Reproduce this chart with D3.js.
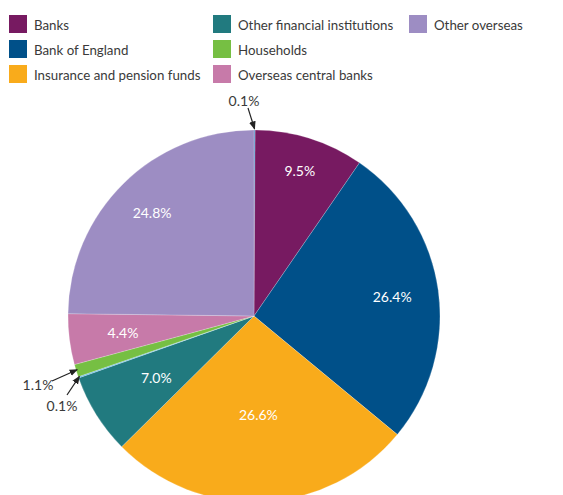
<!DOCTYPE html>
<html><head><meta charset="utf-8">
<script src="https://cdn.jsdelivr.net/npm/d3@7"></script>
<style>body{margin:0;background:#fff}svg{display:block}text{font-family:Lato,"Open Sans",sans-serif}</style>
</head><body>
<svg id="c" width="563" height="495"></svg>
<script>
// Data (clockwise from 12 o'clock)
const sliceNames = ["Bank of England (other)", "Banks", "Bank of England", "Insurance and pension funds",
  "Other financial institutions", "Other (small)", "Households", "Overseas central banks", "Other overseas"];
const sliceValues = [0.1, 9.5, 26.4, 26.6, 7.0, 0.1, 1.1, 4.4, 24.8];
const sliceLabels = ["0.1%", "9.5%", "26.4%", "26.6%", "7.0%", "0.1%", "1.1%", "4.4%", "24.8%"];
const legendNames = ["Banks", "Bank of England", "Insurance and pension funds",
  "Other financial institutions", "Households", "Overseas central banks", "Other overseas"];

// Styles
const sliceColors = ["#3f86c4", "#771a61", "#005089", "#f9ab1b", "#217a7f", "#5db7e6", "#76bf43", "#c77aa9", "#9d8dc3"];
const legendColors = ["#771a61", "#005089", "#f9ab1b", "#217a7f", "#76bf43", "#c77aa9", "#9d8dc3"];
const labelRadiusFactor = [null, 0.82, 0.75, 0.53, 0.62, null, null, 0.71, 0.78];

const svg = d3.select("#c");
const cx = 254, cy = 316, R = 186;

const pie = d3.pie().sort(null).value(d => d)(sliceValues);
const arc = d3.arc().innerRadius(0).outerRadius(R);
const g = svg.append("g").attr("transform", `translate(${cx},${cy})`);
g.selectAll("path").data(pie).join("path")
  .attr("d", arc)
  .attr("fill", (d, i) => sliceColors[i])
  .attr("stroke", "rgba(255,255,255,0.35)")
  .attr("stroke-width", 0.6);

g.selectAll("text.in").data(pie.filter((d, i) => labelRadiusFactor[i] != null)).join("text")
  .attr("class", "in")
  .each(function(d) {
    const i = d.index;
    const a = (d.startAngle + d.endAngle) / 2;
    const r = R * labelRadiusFactor[i];
    d3.select(this).attr("x", r * Math.sin(a)).attr("y", -r * Math.cos(a))
      .text(sliceLabels[i]);
  })
  .attr("text-anchor", "middle").attr("dominant-baseline", "central")
  .attr("fill", "#fff").attr("font-size", 14);

// external labels with arrows
svg.append("defs").append("marker").attr("id", "ah").attr("viewBox", "0 0 10 10")
  .attr("refX", 9).attr("refY", 5).attr("markerWidth", 7).attr("markerHeight", 7)
  .attr("orient", "auto").append("path").attr("d", "M0,1 L10,5 L0,9 z").attr("fill", "#222");

function edgePoint(i, frac) {
  const d = pie[i];
  const a = d.startAngle + (d.endAngle - d.startAngle) * frac;
  return [cx + R * Math.sin(a), cy - R * Math.cos(a)];
}
const ext = [
  {i: 0, tx: 244, ty: 100, from: [248, 108]},
  {i: 6, tx: 38, ty: 384, from: [52, 381]},
  {i: 5, tx: 62, ty: 405, from: [67, 395]}
];
ext.forEach(e => {
  const p = edgePoint(e.i, 0.5);
  svg.append("line").attr("x1", e.from[0]).attr("y1", e.from[1])
    .attr("x2", p[0] + (e.i === 0 ? 0 : 1)).attr("y2", p[1] - 1)
    .attr("stroke", "#222").attr("stroke-width", 1.2).attr("marker-end", "url(#ah)");
  svg.append("text").attr("x", e.tx).attr("y", e.ty).attr("text-anchor", "middle")
    .attr("dominant-baseline", "central").attr("font-size", 14).attr("fill", "#3a3a3a")
    .text(sliceLabels[e.i]);
});

// legend
const colX = [9, 213, 409];
const leg = svg.append("g");
legendNames.forEach((n, k) => {
  const col = Math.floor(k / 3), row = k % 3;
  const x = colX[col], y = 15 + row * 25;
  leg.append("rect").attr("x", x).attr("y", y).attr("width", 18).attr("height", 18).attr("fill", legendColors[k]);
  leg.append("text").attr("x", x + 25).attr("y", y + 9.5).attr("dominant-baseline", "central")
    .attr("font-size", 13.3).attr("fill", "#3a3a3a").text(n);
});
</script>
</body></html>
